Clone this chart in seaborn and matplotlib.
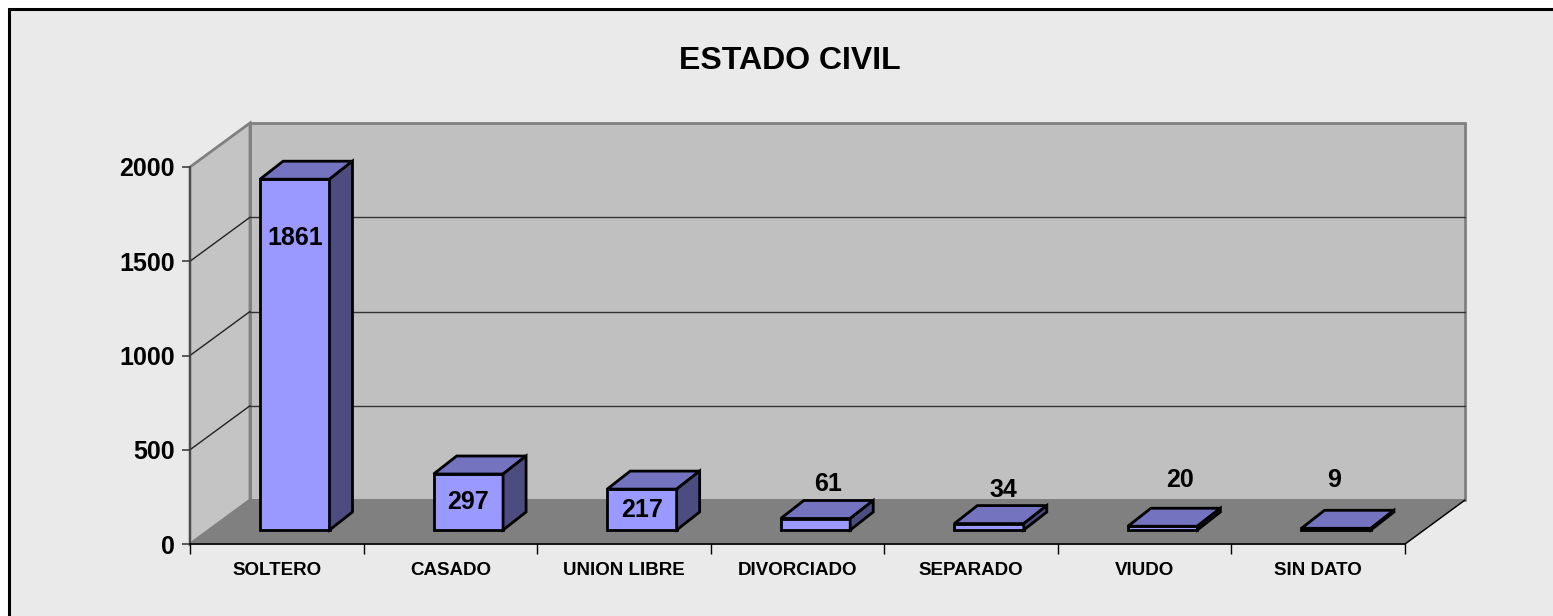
import numpy as np
import matplotlib
matplotlib.use("Agg")
import matplotlib.pyplot as plt
from matplotlib.patches import Polygon, Rectangle
from matplotlib.transforms import offset_copy
import seaborn as sns

# datos
categorias = ["SOLTERO", "CASADO", "UNION LIBRE", "DIVORCIADO", "SEPARADO", "VIUDO", "SIN DATO"]
valores = [1861, 297, 217, 61, 34, 20, 9]
y_ticks = [0, 500, 1000, 1500, 2000]
titulo = "ESTADO CIVIL"

sns.set_style("white")
plt.rcParams['font.family'] = ['Liberation Sans', 'DejaVu Sans']
plt.rcParams['font.weight'] = 'bold'
plt.rcParams['text.color'] = 'black'

W, H = 1553, 616
fig = plt.figure(figsize=(W / 100, H / 100), dpi=100)
fig.patch.set_facecolor('white')

# chart area (border only shows on top and left, rest runs off the picture)
fig.add_artist(Rectangle((9 / W, -0.05), 1.1, 1 - 9 / H + 0.05, transform=fig.transFigure,
                         fc='#EAEAEA', ec='black', lw=2.2, zorder=-10))

# front plane of the fake 3D box, in pixels
x0_px, x1_px = 190, 1405
y0_px, y1_px = 544, 167
ax = fig.add_axes([x0_px / W, 1 - y0_px / H, (x1_px - x0_px) / W, (y0_px - y1_px) / H])
ax.set_facecolor('none')

n = len(categorias)
ymax = y_ticks[-1]
px_x = (x1_px - x0_px) / n      # pixels per category
px_y = (y0_px - y1_px) / ymax   # pixels per unit


def dx(p):
    return p / px_x


def dy(p):
    return p / px_y


# bars (front faces) from seaborn
sns.barplot(x=categorias, y=valores, color='#9999FF', saturation=1, width=0.4,
            edgecolor='black', linewidth=2, ax=ax, zorder=3)
bars = list(ax.patches)
ax.set_xlim(-0.5, n - 0.5)
ax.set_ylim(0, ymax)

# bars sit a bit back on the floor
shift = offset_copy(ax.transData, fig=fig, x=18, y=14, units='dots')
bx, by = dx(23), dy(18)
for b in bars:
    b.set_transform(shift)
    b.set_clip_on(False)
    xl = b.get_x()
    xr = xl + b.get_width()
    top = b.get_height()
    top_face = Polygon([(xl, top), (xr, top), (xr + bx, top + by), (xl + bx, top + by)],
                       closed=True, fc='#7373C0', ec='black', lw=2, transform=shift,
                       clip_on=False, zorder=3)
    side_face = Polygon([(xr, 0), (xr, top), (xr + bx, top + by), (xr + bx, by)],
                        closed=True, fc='#4C4C80', ec='black', lw=2, transform=shift,
                        clip_on=False, zorder=3)
    ax.add_patch(top_face)
    ax.add_patch(side_face)

# walls and floor
DX, DY = dx(60), dy(44)
L, R = -0.5, n - 0.5
back = Polygon([(L + DX, DY), (R + DX, DY), (R + DX, ymax + DY), (L + DX, ymax + DY)],
               closed=True, fc='#C0C0C0', ec='#808080', lw=2, clip_on=False, zorder=0)
side = Polygon([(L, 0), (L, ymax), (L + DX, ymax + DY), (L + DX, DY)],
               closed=True, fc='#C4C4C4', ec='#808080', lw=2, clip_on=False, zorder=0)
floor = Polygon([(L, 0), (R, 0), (R + DX, DY), (L + DX, DY)],
                closed=True, fc='#808080', ec='#808080', lw=1, clip_on=False, zorder=0.5)
for p in (back, side, floor):
    ax.add_patch(p)
ax.plot([R, R + DX], [0, DY], color='black', lw=1, clip_on=False, zorder=0.6)

# gridlines on back and side wall
for v in y_ticks[1:-1]:
    ax.plot([L + DX, R + DX], [v + DY, v + DY], color='#333333', lw=1, clip_on=False, zorder=0.6)
    ax.plot([L, L + DX], [v, v + DY], color='#222222', lw=1, clip_on=False, zorder=0.6)

# data labels (Excel puts them in odd places)
label_pos = [1623, 223, 180, 318, 286, 340, 340]
label_dx = [0, 0, 0, 13, 14, 17, -2]
for i, (b, v) in enumerate(zip(bars, valores)):
    tr = offset_copy(ax.transData, fig=fig, x=18 + label_dx[i], y=0, units='dots')
    cx = b.get_x() + b.get_width() / 2
    ax.text(cx, label_pos[i], str(v), transform=tr, ha='center', va='center',
            fontsize=18, fontweight='bold', color='black', zorder=5)

# axes styling
sns.despine(ax=ax, top=True, right=True)
ax.spines['left'].set_color('#404040')
ax.spines['left'].set_linewidth(1.2)
ax.spines['bottom'].set_color('black')
ax.spines['bottom'].set_linewidth(1.2)
ax.spines['left'].set_zorder(1)
ax.spines['bottom'].set_zorder(1)

ax.set_yticks(y_ticks)
ax.set_yticklabels([str(t) for t in y_ticks], fontsize=18, fontweight='bold')
ax.tick_params(axis='y', length=6, width=1.2, color='#404040', labelcolor='black', pad=5, left=True)

ax.set_xticks(range(n))
ax.set_xticklabels(categorias, fontsize=13.5, fontweight='bold')
ax.set_xticks(np.arange(-0.5, n), minor=True)
ax.tick_params(axis='x', which='major', length=0, pad=13, labelcolor='black')
ax.tick_params(axis='x', which='minor', length=7, width=1, color='black', bottom=True)
ax.set_xlabel('')
ax.set_ylabel('')

fig.text(790 / W, 1 - 61 / H, titulo, ha='center', va='center', fontsize=23,
         fontweight='bold', color='black')

fig.savefig('out.png', dpi=100, facecolor=fig.get_facecolor())
